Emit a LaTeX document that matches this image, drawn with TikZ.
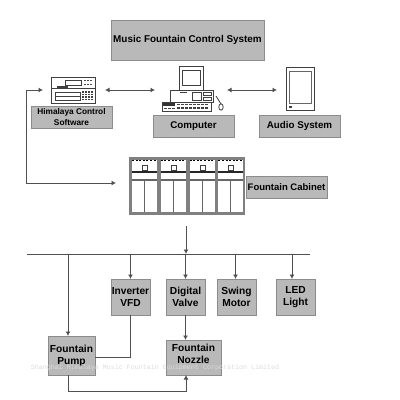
\documentclass[tikz,border=0pt]{standalone}
\usepackage{fontspec}
\setmainfont{Liberation Sans}
\newfontfamily\markfont{Liberation Mono}
\usetikzlibrary{arrows.meta,positioning}
\definecolor{boxgray}{HTML}{B9B9B9}
\definecolor{edgegray}{HTML}{8C8C8C}
\definecolor{linegray}{HTML}{505050}
\tikzset{
  labelbox/.style={
    draw=edgegray,
    fill=boxgray,
    thick,
    outer sep=0pt,
    inner sep=0pt,
    minimum width=81pt,
    minimum height=22pt,
    align=center,
    font=\fontsize{9.8}{11}\selectfont\bfseries
  },
  unitbox/.style={
    labelbox,
    minimum width=39pt,
    minimum height=36pt,
    font=\fontsize{10.2}{12}\selectfont\bfseries
  },
  iconslot/.style={
    inner sep=0pt,
    outer sep=0pt
  },
  wire/.style={
    line width=1pt,
    draw=linegray
  },
  arrow/.style={
    wire,
    -{Latex[length=4.5pt,width=5pt]}
  },
  twoway/.style={
    wire,
    {Latex[length=4.5pt,width=5pt]}-{Latex[length=4.5pt,width=5pt]}
  },
  icon/.style={
    draw=black!75,
    line width=0.8pt
  }
}

\begin{document}
\begin{tikzpicture}[x=1pt,y=-1pt,node distance=16pt and 12pt]
\useasboundingbox (0,0) rectangle (400,400);

% top row
\node[labelbox, minimum width=153pt, minimum height=40pt, font=\fontsize{9.9}{11}\selectfont\bfseries] (title) at (187.5,40) {Music Fountain Control System};
\node[labelbox] (software) at (71.5,117) {\fontsize{8.3}{10}\selectfont Himalaya Control\\\fontsize{8.3}{10}\selectfont Software};
\node[labelbox] (computer) at (193.5,126) {Computer};
\node[labelbox] (audio) at (299.5,126) {Audio System};
\node[labelbox, font=\fontsize{9.5}{11}\selectfont\bfseries] (cabinetlabel) at (286.5,187) {Fountain Cabinet};

% icons
\node[iconslot, minimum width=44pt, minimum height=26pt] (device) at (73,90) {};
\node[iconslot, minimum width=52pt, minimum height=45pt] (pc) at (188,88.5) {};
\node[iconslot, minimum width=28pt, minimum height=43pt] (speaker) at (300,88.5) {};
\node[iconslot, minimum width=116pt, minimum height=58pt] (cabinet) at (187,186) {};

% controller
\draw[icon, fill=white] (51,77) rectangle (95,103);
\draw[icon] (51,88.5) -- (95,88.5);
\draw[icon] (65,80) rectangle (81,85);
\draw[icon] (55,92) rectangle (80,100);
\draw[icon] (55,96) -- (80,96);
\fill[black!75] (57,86) rectangle (68,87.5);
\foreach \y in {92,94.5,97,99.5} \draw[black!75, line width=1.2pt, dash pattern=on 2pt off 1pt] (82,\y) -- (93,\y);
\foreach \y in {80,84} \draw[black!70, line width=1pt, dash pattern=on 2pt off 1pt] (84,\y) -- (93,\y);

% computer
\draw[icon, fill=white] (179,66) rectangle (203,90);
\draw[icon] (182,70) rectangle (200,85);
\draw[icon, fill=white] (170,90) rectangle (213,102);
\draw[icon] (192,92) rectangle (201,100);
\draw[icon] (203,92) rectangle (211,95.5);
\draw[icon] (203,97) rectangle (211,100);
\fill[black!75] (180,91.5) rectangle (187,93);
\draw[icon, fill=white] (162,102) rectangle (211,111);
\fill[black!80] (163,103) rectangle (175,106);
\foreach \y in {104.5,108} \draw[black!75, line width=1.2pt, dash pattern=on 3pt off 1pt] (177,\y) -- (209,\y);
\draw[black!75, line width=1.2pt, dash pattern=on 3pt off 1pt] (164,108.5) -- (175,108.5);
\draw[icon] (216,96) -- (221,104);
\draw[icon, fill=white] (221,107) ellipse (2.2pt and 3.2pt);

% audio box
\draw[icon, fill=white] (286,67) rectangle (314,110);
\draw[draw=black!60, line width=0.6pt] (289,71) rectangle (311,103);
\fill[black!75] (289,106) rectangle (292,108);

% cabinet
\fill[black!50] (129,157) rectangle (245,215);
\foreach \x in {0,1,2,3} {
  \begin{scope}[xshift=\x*28.8pt]
    \fill[white] (132,160) rectangle (157,212);
    \draw[black, line width=1.2pt, dash pattern=on 2pt off 1.6pt] (132,160.5) -- (157,160.5);
    \draw[icon, line width=0.9pt] (142.5,165) rectangle (147.5,170);
    \draw[black!85, line width=1.2pt] (132,172) -- (157,172);
    \fill[black!60] (132,179) rectangle (157,181);
    \draw[black!60, line width=1.1pt] (144.5,181) -- (144.5,212);
  \end{scope}
}

% connectors
\coordinate (softin) at (43,90);
\coordinate (softturn) at (26,90);
\coordinate (cabinetin) at (116,183);
\draw[twoway] (105,90) -- (155,90);
\draw[twoway] (227,90) -- (277,90);
\draw[arrow] (softturn) -- (softin);
\draw[arrow] (softturn) -- (softturn |- cabinetin) -- (cabinetin);

% bus
\coordinate (busleft) at (27,254);
\coordinate (busright) at (310,254);
\coordinate (busdrop) at (186,226);
\draw[wire] (busleft) -- (busright);
\draw[arrow] (busdrop) -- (busdrop |- busleft);

% bottom row
\node[unitbox] (inverter) at (130.5,297) {Inverter\\VFD};
\node[unitbox, right=of inverter, xshift=4pt] (valve) {Digital\\Valve};
\node[unitbox, right=of valve] (swing) {Swing\\Motor};
\node[unitbox, right=of swing, xshift=8pt] (led) {LED\\Light};
\node[unitbox, minimum width=47pt, minimum height=39pt] (pump) at (71.5,355.5) {Fountain\\Pump};
\node[unitbox, minimum width=55pt, minimum height=35pt, text depth=7pt] (nozzle) at (193.5,357.5) {Fountain\\Nozzle};

\draw[arrow] (inverter |- busleft) -- (inverter.north);
\draw[arrow] (valve |- busleft) -- (valve.north);
\draw[arrow] ([xshift=-1pt]swing.north |- busleft) -- ([xshift=-1pt]swing.north);
\draw[arrow] ([xshift=-3.5pt]led.north |- busleft) -- ([xshift=-3.5pt]led.north);
\draw[arrow] ([xshift=-3.5pt]pump.north |- busleft) -- ([xshift=-3.5pt]pump.north);
\draw[wire] (inverter.south) |- (pump.east |- 0,357);
\draw[arrow] (valve.south) -- (valve.south |- nozzle.north);
\draw[arrow] ([xshift=-3.5pt]pump.south) -- ++(0,16) -| ([xshift=-7.5pt]nozzle.south);

% watermark
\node[iconslot, text=black!14, font=\markfont\fontsize{6.67}{8}\selectfont] (watermark) at (155,368) {Shanghai Himalaya Music Fountain Equipment Corporation Limited};
\end{tikzpicture}
\end{document}
